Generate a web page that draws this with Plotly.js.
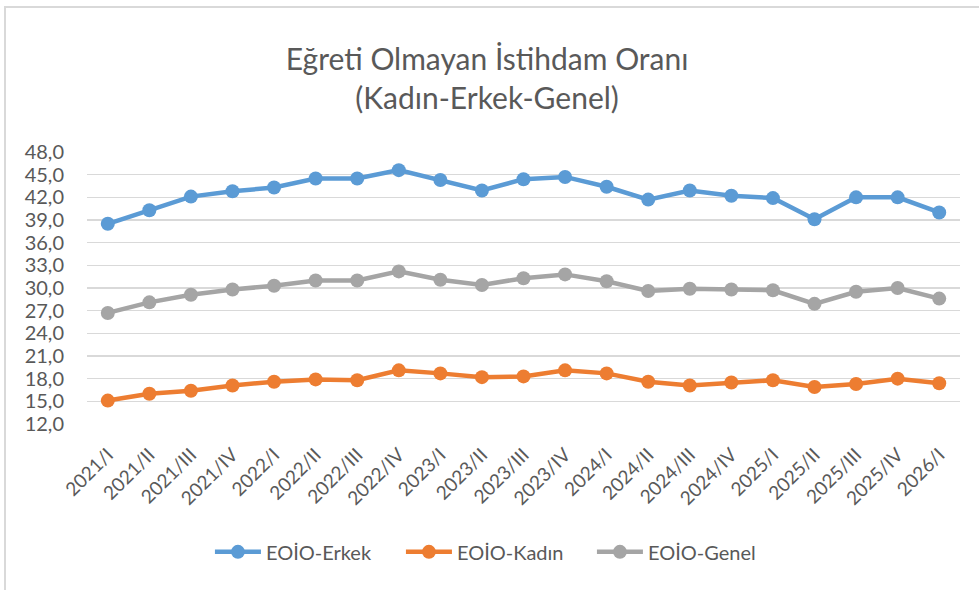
<!DOCTYPE html>
<html>
<head>
<meta charset="utf-8">
<script src="https://cdn.plot.ly/plotly-3.0.1.min.js"></script>
<style>
  html, body { margin: 0; padding: 0; background: #fff; }
  #wrap { position: relative; width: 979px; height: 590px; overflow: hidden; }
  #chart { position: absolute; left: 0; top: 0; width: 979px; height: 590px; }
  #frame { position: absolute; left: 4px; top: 6px; width: 990px; height: 600px;
           border-top: 2px solid #d9d9d9; border-left: 2px solid #d9d9d9; pointer-events: none; }
</style>
</head>
<body>
<div id="wrap">
  <div id="chart"></div>
  <div id="frame"></div>
</div>
<script>
const categories = ["2021/I","2021/II","2021/III","2021/IV","2022/I","2022/II","2022/III","2022/IV",
  "2023/I","2023/II","2023/III","2023/IV","2024/I","2024/II","2024/III","2024/IV",
  "2025/I","2025/II","2025/III","2025/IV","2026/I"];
const erkek = [38.5,40.3,42.1,42.8,43.3,44.5,44.5,45.6,44.3,42.9,44.4,44.7,43.4,41.7,42.9,42.2,41.9,39.1,42.0,42.0,40.0];
const kadin = [15.1,16.0,16.4,17.1,17.6,17.9,17.8,19.1,18.7,18.2,18.3,19.1,18.7,17.6,17.1,17.5,17.8,16.9,17.3,18.0,17.4];
const genel = [26.7,28.1,29.1,29.8,30.3,31.0,31.0,32.2,31.1,30.4,31.3,31.8,30.9,29.6,29.9,29.8,29.7,27.9,29.5,30.0,28.6];
const yTicks = [12,15,18,21,24,27,30,33,36,39,42,45,48];

const fontFam = 'Lato, "Open Sans", sans-serif';
const textColor = '#595959';

function series(name, y, color) {
  return {
    type: 'scatter', mode: 'lines+markers', name: name,
    x: categories, y: y,
    line: { color: color, width: 4.5 },
    marker: { color: color, size: 14 }
  };
}

const data = [
  series('EOİO-Erkek', erkek, '#5B9BD5'),
  series('EOİO-Kadın', kadin, '#ED7D31'),
  series('EOİO-Genel', genel, '#A5A5A5')
];

const layout = {
  width: 979, height: 590,
  paper_bgcolor: '#ffffff', plot_bgcolor: '#ffffff',
  margin: { l: 87, r: 19, t: 152, b: 166 },
  separators: ',.',
  font: { family: fontFam, color: textColor },
  title: {
    text: 'Eğreti Olmayan İstihdam Oranı<br>(Kadın-Erkek-Genel)',
    font: { family: fontFam, size: 30, color: textColor },
    x: 0.4975, xanchor: 'center', xref: 'container',
    y: 0.882, yanchor: 'middle', yref: 'container'
  },
  xaxis: {
    type: 'category',
    tickangle: -45,
    tickfont: { family: fontFam, size: 19, color: textColor },
    showgrid: false, zeroline: false, showline: false,
    ticks: '', range: [-0.5, categories.length - 0.5],
    ticklabelstandoff: 15,
    fixedrange: true
  },
  yaxis: {
    range: [12, 48],
    tickvals: yTicks,
    tickformat: '.1f',
    tickfont: { family: fontFam, size: 20, color: textColor },
    showgrid: true, gridcolor: '#d9d9d9', gridwidth: 1.5,
    zeroline: false, showline: false, ticks: '',
    ticklabelstandoff: 22,
    fixedrange: true
  },
  legend: {
    orientation: 'h',
    x: 0.469, xanchor: 'center',
    y: -0.47, yanchor: 'middle',
    font: { family: fontFam, size: 20, color: textColor },
    itemwidth: 46,
    entrywidth: 130, entrywidthmode: 'pixels',
    tracegroupgap: 0
  },
  showlegend: true
};

Plotly.newPlot('chart', data, layout, { displayModeBar: false, staticPlot: true });
</script>
</body>
</html>
